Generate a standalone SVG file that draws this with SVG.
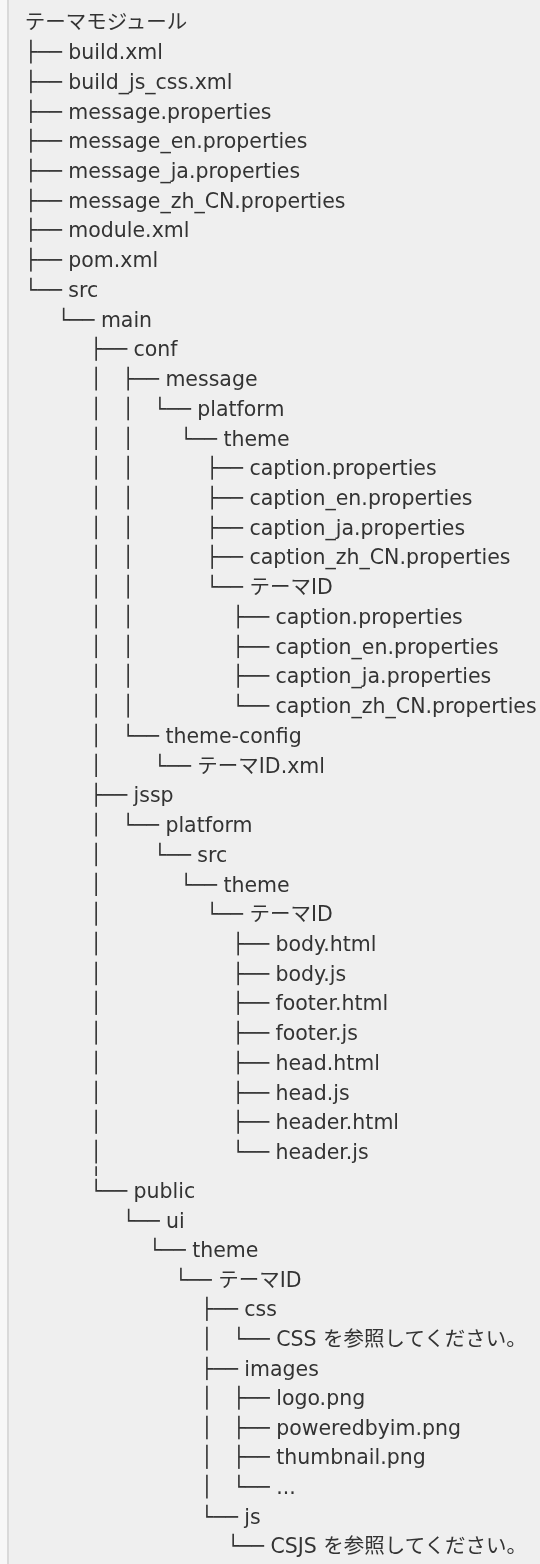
<svg xmlns="http://www.w3.org/2000/svg" width="540" height="1564" viewBox="0 0 540 1564">
<style>
text{font-family:"DejaVu Sans","Noto Sans CJK JP",sans-serif;font-size:20.5px;fill:#333333;white-space:pre}
#connectors text{font-family:"DejaVu Sans",sans-serif}
</style>
<defs>
<clipPath id="rows">
<rect x="0" width="540" height="25" y="38.5"/><rect x="0" width="540" height="25" y="68.2"/><rect x="0" width="540" height="25" y="98"/><rect x="0" width="540" height="25" y="127.7"/><rect x="0" width="540" height="25" y="157.4"/><rect x="0" width="540" height="25" y="187.2"/><rect x="0" width="540" height="25" y="216.9"/><rect x="0" width="540" height="25" y="246.6"/><rect x="0" width="540" height="25" y="276.3"/><rect x="0" width="540" height="25" y="306.1"/><rect x="0" width="540" height="25" y="335.8"/><rect x="0" width="540" height="25" y="365.5"/><rect x="0" width="540" height="25" y="395.3"/><rect x="0" width="540" height="25" y="425"/><rect x="0" width="540" height="25" y="454.7"/><rect x="0" width="540" height="25" y="484.5"/><rect x="0" width="540" height="25" y="514.2"/><rect x="0" width="540" height="25" y="543.9"/><rect x="0" width="540" height="25" y="573.6"/><rect x="0" width="540" height="25" y="603.4"/><rect x="0" width="540" height="25" y="633.1"/><rect x="0" width="540" height="25" y="662.8"/><rect x="0" width="540" height="25" y="692.6"/><rect x="0" width="540" height="25" y="722.3"/><rect x="0" width="540" height="25" y="752"/><rect x="0" width="540" height="25" y="781.8"/><rect x="0" width="540" height="25" y="811.5"/><rect x="0" width="540" height="25" y="841.2"/><rect x="0" width="540" height="25" y="871"/><rect x="0" width="540" height="25" y="900.7"/><rect x="0" width="540" height="25" y="930.4"/><rect x="0" width="540" height="25" y="960.2"/><rect x="0" width="540" height="25" y="989.9"/><rect x="0" width="540" height="25" y="1019.6"/><rect x="0" width="540" height="25" y="1049.4"/><rect x="0" width="540" height="25" y="1079.1"/><rect x="0" width="540" height="25" y="1108.8"/><rect x="0" width="540" height="25" y="1138.5"/><rect x="0" width="540" height="10" y="1166"/><rect x="0" width="540" height="25" y="1177.5"/><rect x="0" width="540" height="25" y="1207.1"/><rect x="0" width="540" height="25" y="1236.7"/><rect x="0" width="540" height="25" y="1266.3"/><rect x="0" width="540" height="25" y="1295.9"/><rect x="0" width="540" height="25" y="1325.5"/><rect x="0" width="540" height="25" y="1355.1"/><rect x="0" width="540" height="25" y="1384.7"/><rect x="0" width="540" height="25" y="1414.3"/><rect x="0" width="540" height="25" y="1443.9"/><rect x="0" width="540" height="25" y="1473.5"/><rect x="0" width="540" height="25" y="1503.1"/><rect x="0" width="540" height="25" y="1532.7"/>
</clipPath>
</defs>
<rect x="0" y="0" width="540" height="1564" fill="#f7f7f7"/>
<rect x="9" y="0" width="531" height="1564" fill="#efefef"/>
<rect x="7" y="0" width="2" height="1564" fill="#d9d9d9"/>
<g id="connectors" clip-path="url(#rows)">
<text x="24.8" y="59">├──</text>
<text x="24.8" y="88.7">├──</text>
<text x="24.8" y="118.5">├──</text>
<text x="24.8" y="148.2">├──</text>
<text x="24.8" y="177.9">├──</text>
<text x="24.8" y="207.7">├──</text>
<text x="24.8" y="237.4">├──</text>
<text x="24.8" y="267.1">├──</text>
<text x="24.8" y="296.8">└──</text>
<text x="57.4" y="326.6">└──</text>
<text x="90" y="356.3">├──</text>
<text x="90" y="386">│</text><text x="121.9" y="386">├──</text>
<text x="90" y="415.8">│</text><text x="121.9" y="415.8">│</text><text x="153.8" y="415.8">└──</text>
<text x="90" y="445.5">│</text><text x="121.9" y="445.5">│</text><text x="179.9" y="445.5">└──</text>
<text x="90" y="475.2">│</text><text x="121.9" y="475.2">│</text><text x="205.9" y="475.2">├──</text>
<text x="90" y="505">│</text><text x="121.9" y="505">│</text><text x="205.9" y="505">├──</text>
<text x="90" y="534.7">│</text><text x="121.9" y="534.7">│</text><text x="205.9" y="534.7">├──</text>
<text x="90" y="564.4">│</text><text x="121.9" y="564.4">│</text><text x="205.9" y="564.4">├──</text>
<text x="90" y="594.1">│</text><text x="121.9" y="594.1">│</text><text x="205.9" y="594.1">└──</text>
<text x="90" y="623.9">│</text><text x="121.9" y="623.9">│</text><text x="232" y="623.9">├──</text>
<text x="90" y="653.6">│</text><text x="121.9" y="653.6">│</text><text x="232" y="653.6">├──</text>
<text x="90" y="683.3">│</text><text x="121.9" y="683.3">│</text><text x="232" y="683.3">├──</text>
<text x="90" y="713.1">│</text><text x="121.9" y="713.1">│</text><text x="232" y="713.1">└──</text>
<text x="90" y="742.8">│</text><text x="121.9" y="742.8">└──</text>
<text x="90" y="772.5">│</text><text x="153.8" y="772.5">└──</text>
<text x="90" y="802.3">├──</text>
<text x="90" y="832">│</text><text x="121.9" y="832">└──</text>
<text x="90" y="861.7">│</text><text x="153.8" y="861.7">└──</text>
<text x="90" y="891.5">│</text><text x="179.9" y="891.5">└──</text>
<text x="90" y="921.2">│</text><text x="205.9" y="921.2">└──</text>
<text x="90" y="950.9">│</text><text x="232" y="950.9">├──</text>
<text x="90" y="980.7">│</text><text x="232" y="980.7">├──</text>
<text x="90" y="1010.4">│</text><text x="232" y="1010.4">├──</text>
<text x="90" y="1040.1">│</text><text x="232" y="1040.1">├──</text>
<text x="90" y="1069.9">│</text><text x="232" y="1069.9">├──</text>
<text x="90" y="1099.6">│</text><text x="232" y="1099.6">├──</text>
<text x="90" y="1129.3">│</text><text x="232" y="1129.3">├──</text>
<text x="90" y="1159">│</text><text x="232" y="1159">└──</text>
<text x="90" y="7.1" transform="translate(0,1171) scale(1,0.4)">│</text>
<text x="90" y="1198">└──</text>
<text x="122.6" y="1227.6">└──</text>
<text x="148.7" y="1257.2">└──</text>
<text x="174.7" y="1286.8">└──</text>
<text x="200.8" y="1316.4">├──</text>
<text x="200.8" y="1346">│</text><text x="232.7" y="1346">└──</text>
<text x="200.8" y="1375.6">├──</text>
<text x="200.8" y="1405.2">│</text><text x="232.7" y="1405.2">├──</text>
<text x="200.8" y="1434.8">│</text><text x="232.7" y="1434.8">├──</text>
<text x="200.8" y="1464.4">│</text><text x="232.7" y="1464.4">├──</text>
<text x="200.8" y="1494">│</text><text x="232.7" y="1494">└──</text>
<text x="200.8" y="1523.6">└──</text>
<text x="226.9" y="1553.2">└──</text>
</g>
<g id="n-root"><text x="24.8" y="29.3">テーマモジュール</text></g>
<g id="n-build"><text x="68.3" y="59">build.xml</text></g>
<g id="n-build-js-css"><text x="68.3" y="88.7">build_js_css.xml</text></g>
<g id="n-message"><text x="68.3" y="118.5">message.properties</text></g>
<g id="n-message-en"><text x="68.3" y="148.2">message_en.properties</text></g>
<g id="n-message-ja"><text x="68.3" y="177.9">message_ja.properties</text></g>
<g id="n-message-zh"><text x="68.3" y="207.7">message_zh_CN.properties</text></g>
<g id="n-module"><text x="68.3" y="237.4">module.xml</text></g>
<g id="n-pom"><text x="68.3" y="267.1">pom.xml</text></g>
<g id="n-src"><text x="68.3" y="296.8">src</text></g>
<g id="n-main"><text x="100.9" y="326.6">main</text></g>
<g id="n-conf"><text x="133.5" y="356.3">conf</text></g>
<g id="n-conf-message"><text x="165.4" y="386">message</text></g>
<g id="n-conf-platform"><text x="197.3" y="415.8">platform</text></g>
<g id="n-conf-theme"><text x="223.4" y="445.5">theme</text></g>
<g id="n-cap1"><text x="249.4" y="475.2">caption.properties</text></g>
<g id="n-cap1-en"><text x="249.4" y="505">caption_en.properties</text></g>
<g id="n-cap1-ja"><text x="249.4" y="534.7">caption_ja.properties</text></g>
<g id="n-cap1-zh"><text x="249.4" y="564.4">caption_zh_CN.properties</text></g>
<g id="n-conf-themeid"><text x="249.4" y="594.1">テーマID</text></g>
<g id="n-cap2"><text x="275.5" y="623.9">caption.properties</text></g>
<g id="n-cap2-en"><text x="275.5" y="653.6">caption_en.properties</text></g>
<g id="n-cap2-ja"><text x="275.5" y="683.3">caption_ja.properties</text></g>
<g id="n-cap2-zh"><text x="275.5" y="713.1">caption_zh_CN.properties</text></g>
<g id="n-theme-config"><text x="165.4" y="742.8">theme-config</text></g>
<g id="n-themeid-xml"><text x="197.3" y="772.5">テーマID.xml</text></g>
<g id="n-jssp"><text x="133.5" y="802.3">jssp</text></g>
<g id="n-jssp-platform"><text x="165.4" y="832">platform</text></g>
<g id="n-jssp-src"><text x="197.3" y="861.7">src</text></g>
<g id="n-jssp-theme"><text x="223.4" y="891.5">theme</text></g>
<g id="n-jssp-themeid"><text x="249.4" y="921.2">テーマID</text></g>
<g id="n-body-html"><text x="275.5" y="950.9">body.html</text></g>
<g id="n-body-js"><text x="275.5" y="980.7">body.js</text></g>
<g id="n-footer-html"><text x="275.5" y="1010.4">footer.html</text></g>
<g id="n-footer-js"><text x="275.5" y="1040.1">footer.js</text></g>
<g id="n-head-html"><text x="275.5" y="1069.9">head.html</text></g>
<g id="n-head-js"><text x="275.5" y="1099.6">head.js</text></g>
<g id="n-header-html"><text x="275.5" y="1129.3">header.html</text></g>
<g id="n-header-js"><text x="275.5" y="1159">header.js</text></g>
<g id="n-public"><text x="133.5" y="1198">public</text></g>
<g id="n-ui"><text x="166.1" y="1227.6">ui</text></g>
<g id="n-ui-theme"><text x="192.2" y="1257.2">theme</text></g>
<g id="n-ui-themeid"><text x="218.2" y="1286.8">テーマID</text></g>
<g id="n-css"><text x="244.3" y="1316.4">css</text></g>
<g id="n-css-ref"><text x="276.2" y="1346">CSS を参照してください。</text></g>
<g id="n-images"><text x="244.3" y="1375.6">images</text></g>
<g id="n-logo"><text x="276.2" y="1405.2">logo.png</text></g>
<g id="n-powered"><text x="276.2" y="1434.8">poweredbyim.png</text></g>
<g id="n-thumb"><text x="276.2" y="1464.4">thumbnail.png</text></g>
<g id="n-more"><text x="276.2" y="1494">...</text></g>
<g id="n-js"><text x="244.3" y="1523.6">js</text></g>
<g id="n-csjs-ref"><text x="270.4" y="1553.2">CSJS を参照してください。</text></g>
</svg>
